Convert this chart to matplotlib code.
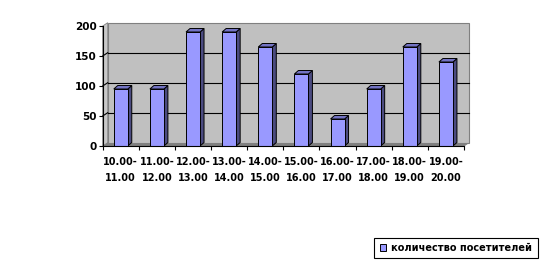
import matplotlib
matplotlib.use("Agg")
import matplotlib.pyplot as plt
from matplotlib.patches import Polygon, Patch
import numpy as np

# ---- data ----
categories = ["10.00-\n11.00", "11.00-\n12.00", "12.00-\n13.00", "13.00-\n14.00",
              "14.00-\n15.00", "15.00-\n16.00", "16.00-\n17.00", "17.00-\n18.00",
              "18.00-\n19.00", "19.00-\n20.00"]
visitors = [95, 95, 190, 190, 165, 120, 45, 95, 165, 140]
y_ticks = [0, 50, 100, 150, 200]
series_name = "количество посетителей"

W, H = 545, 263
fig = plt.figure(figsize=(W / 100, H / 100), dpi=100)
fig.patch.set_facecolor("white")

# axes box = front plane of the 3D chart (pixel coords)
ax_l, ax_r, ax_b, ax_t = 102.7, 464.0, 146.0, 26.0
ax = fig.add_axes([ax_l / W, (H - ax_b) / H, (ax_r - ax_l) / W, (ax_b - ax_t) / H])
n = len(categories)
ax.set_xlim(0, n)
ax.set_ylim(0, 200)
ax.set_facecolor("none")

ux = n / (ax_r - ax_l)      # data units per pixel (x)
uy = 200 / (ax_b - ax_t)    # data units per pixel (y)

# wall depth offset
wdx, wdy = 5 * ux, 3.3 * uy
top = 200

# floor
ax.add_patch(Polygon([(0, 0), (n, 0), (n + wdx, wdy), (wdx, wdy)], closed=True,
                     facecolor="#808080", edgecolor="#808080", lw=0.6, clip_on=False, zorder=0))
# side wall
ax.add_patch(Polygon([(0, 0), (wdx, wdy), (wdx, top + wdy), (0, top)], closed=True,
                     facecolor="#C8C8C8", edgecolor="#808080", lw=0.6, clip_on=False, zorder=0))
# back wall
ax.add_patch(Polygon([(wdx, wdy), (n + wdx, wdy), (n + wdx, top + wdy), (wdx, top + wdy)], closed=True,
                     facecolor="#C0C0C0", edgecolor="#808080", lw=0.8, clip_on=False, zorder=0))
# gridlines
for v in y_ticks[1:-1]:
    ax.plot([wdx, n + wdx], [v + wdy, v + wdy], color="black", lw=0.8, clip_on=False, zorder=1)
    ax.plot([0, wdx], [v, v + wdy], color="black", lw=0.8, clip_on=False, zorder=1)

# bars
x = np.arange(n) + 0.5
bw = 14 * ux
bdx, bdy = 4 * ux, 3.5 * uy
ax.bar(x, visitors, width=bw, color="#9999FF", edgecolor="black", lw=0.7, zorder=4, clip_on=False)
for xi, v in zip(x, visitors):
    xl, xr = xi - bw / 2, xi + bw / 2
    ax.add_patch(Polygon([(xr, 0), (xr + bdx, bdy), (xr + bdx, v + bdy), (xr, v)], closed=True,
                         facecolor="#4B4B80", edgecolor="black", lw=0.7, zorder=3, clip_on=False))
    ax.add_patch(Polygon([(xl, v), (xr, v), (xr + bdx, v + bdy), (xl + bdx, v + bdy)], closed=True,
                         facecolor="#7373C4", edgecolor="black", lw=0.7, zorder=3, clip_on=False))

# spines / ticks
for s in ["top", "right"]:
    ax.spines[s].set_visible(False)
for s in ["left", "bottom"]:
    ax.spines[s].set_color("black")
    ax.spines[s].set_linewidth(0.8)
    ax.spines[s].set_zorder(5)

ax.set_yticks(y_ticks)
ax.set_yticklabels([str(t) for t in y_ticks], fontsize=7.5, fontweight="bold", family="DejaVu Sans")
ax.tick_params(axis="y", direction="out", length=3, width=0.8, pad=1.5)

ax.set_xticks(np.arange(n + 1))
ax.set_xticklabels([])
ax.tick_params(axis="x", which="major", direction="out", length=3, width=0.8)
ax.set_xticks(x, minor=True)
ax.set_xticklabels(categories, minor=True, fontsize=7, fontweight="bold",
                   family=["DejaVu Sans Condensed", "DejaVu Sans"],
                   linespacing=1.75)
ax.tick_params(axis="x", which="minor", length=0, pad=8)

# legend
handle = Patch(facecolor="#9999FF", edgecolor="black", lw=0.7, label=series_name)
leg = fig.legend(handles=[handle], loc="center", bbox_to_anchor=(456 / W, (H - 248) / H),
                 fancybox=False, shadow=False, framealpha=1, edgecolor="black",
                 prop={"size": 7, "weight": "bold", "family": "DejaVu Sans"},
                 handlelength=0.7, handleheight=0.7, handletextpad=0.5, borderpad=0.55)
leg.get_frame().set_linewidth(0.8)

fig.savefig("out.png", dpi=100, facecolor="white")
